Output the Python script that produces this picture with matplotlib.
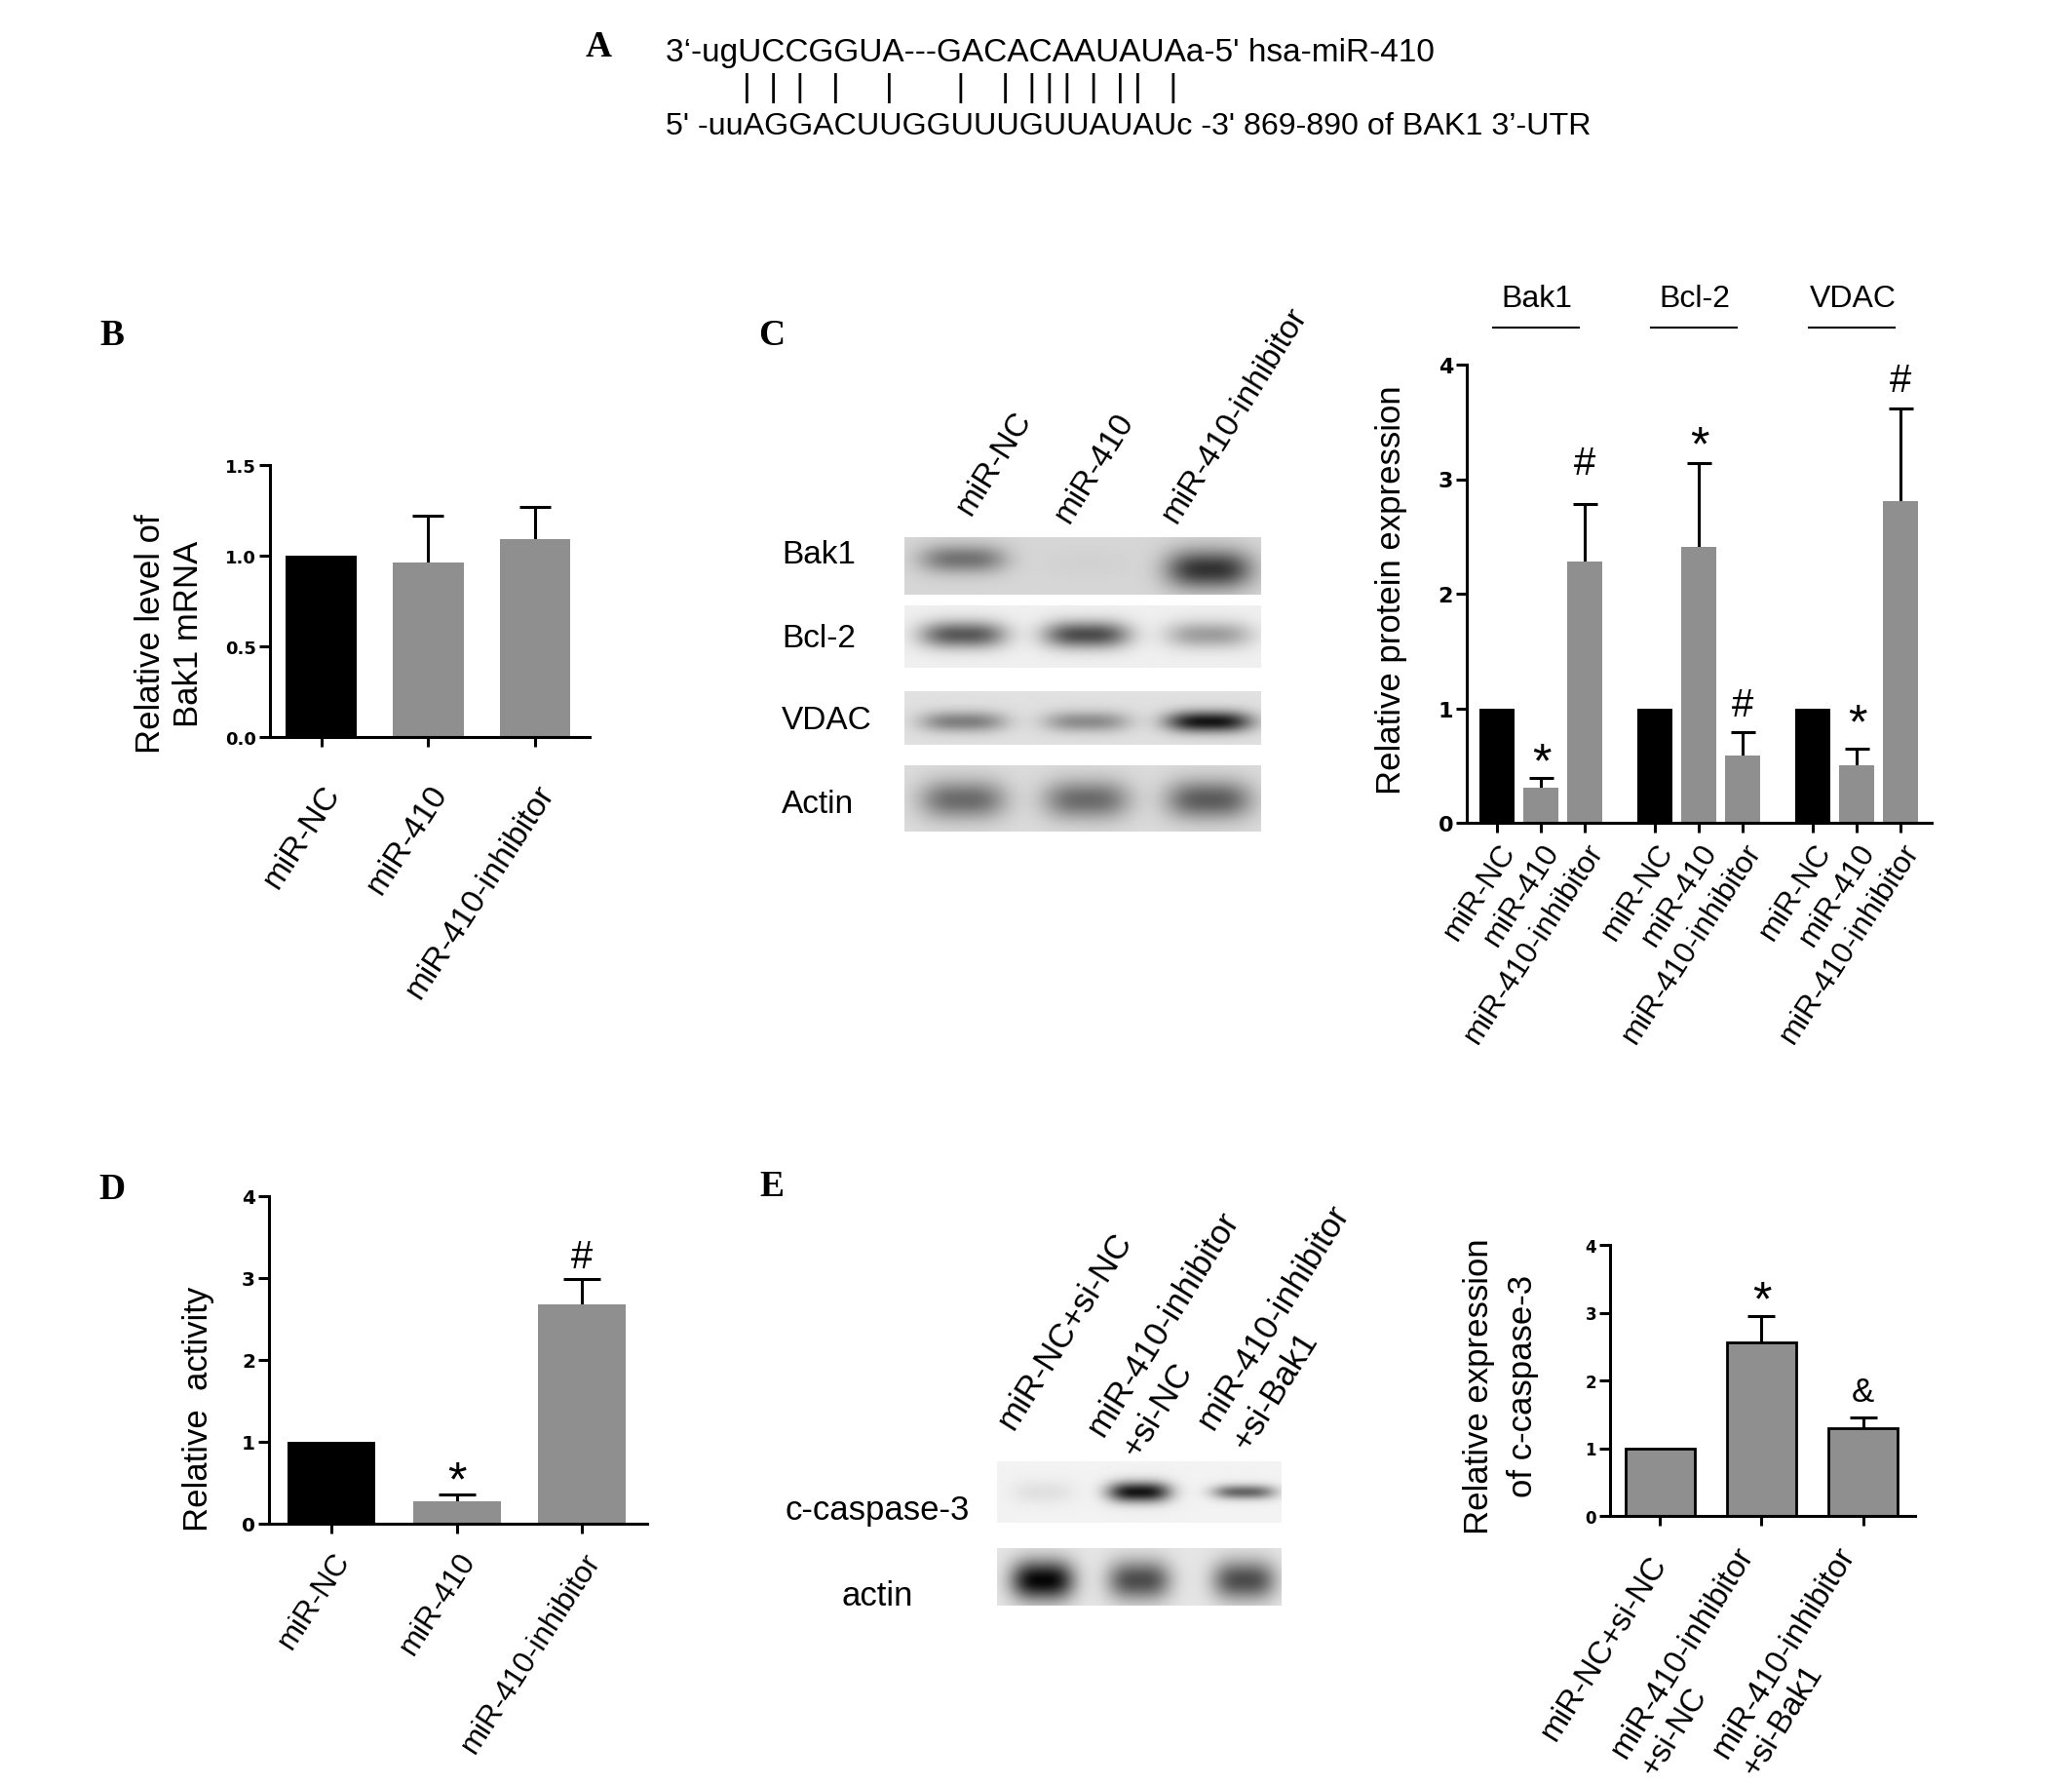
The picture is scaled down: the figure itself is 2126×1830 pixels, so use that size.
import numpy as np
import matplotlib
matplotlib.use("Agg")
import matplotlib.pyplot as plt
from matplotlib.transforms import offset_copy

plt.rcParams['font.family'] = ['Liberation Sans', 'DejaVu Sans']

W, H = 2126, 1831
GRAY = '#8f8f8f'
LW = 2.2

# ---- data ----
mir_seq = "3\u2018-ugUCCGGUA---GACACAAUAUAa-5' hsa-miR-410"
utr_seq = "5' -uuAGGACUUGGUUUGUUAUAUc -3' 869-890 of BAK1 3\u2019-UTR"
pipe_gaps = [2, 2, 3, 5, 7, 4, 2, 1, 1, 2, 2, 1, 3]

groups = ['miR-NC', 'miR-410', 'miR-410-inhibitor']

b_vals = [1.0, 0.96, 1.09]
b_sem = [0, 0.26, 0.18]

proteins = ['Bak1', 'Bcl-2', 'VDAC']
c_vals = [1.0, 0.31, 2.28, 1.0, 2.41, 0.59, 1.0, 0.50, 2.81]
c_sem = [0, 0.08, 0.50, 0, 0.73, 0.20, 0, 0.15, 0.81]
c_marks = ['', '*', '#', '', '*', '#', '', '*', '#']
c_mark_y = [np.nan, 0.655, 3.17, np.nan, 3.42, 1.06, np.nan, 0.99, 3.89]

d_vals = [1.0, 0.27, 2.68]
d_sem = [0, 0.085, 0.31]
d_marks = ['', '*', '#']
d_mark_y = [np.nan, 0.70, 3.30]

e_groups = ['miR-NC+si-NC', 'miR-410-inhibitor\n+si-NC', 'miR-410-inhibitor\n+si-Bak1']
e_vals = [1.0, 2.56, 1.30]
e_sem = [0, 0.385, 0.15]
e_marks = ['', '*', '&']
e_mark_y = [np.nan, 3.39, 1.88]

# western blot band intensity (grey value at band centre, 0 = black)
blot_rows = ['Bak1', 'Bcl-2', 'VDAC', 'Actin']
bak1_band = [0.45, 0.82, 0.20]
bcl2_band = [0.35, 0.30, 0.62]
vdac_band = [0.50, 0.55, 0.08]
actin_band = [0.42, 0.42, 0.36]
ccasp3_band = [0.88, 0.08, 0.40]
actin_e_band = [0.02, 0.30, 0.30]

# symbol font size and glyph centre height (fraction of font size)
SYM_STYLE = {'*': (36, 0.58), '#': (29, 0.35), '&': (25, 0.36)}


def fx(x):
    return x / W


def fy(y):
    return 1 - y / H


def rect(x0, y0, x1, y1):
    return [x0 / W, 1 - y1 / H, (x1 - x0) / W, (y1 - y0) / H]


fig = plt.figure(figsize=(W / 100, H / 100), dpi=100)


def bar_panel(r, x, vals, sem, colors, width, xlim, ylim, yticks, ytl, ytfs,
              xlabels, xfs, rot, xpad, va, cap, edge='none', elw=0):
    ax = fig.add_axes(r)
    x = np.asarray(x, float)
    vals = np.asarray(vals, float)
    sem = np.asarray(sem, float)
    ax.bar(x, vals, width=width, color=colors, edgecolor=edge, linewidth=elw, zorder=2)
    m = sem > 0
    _, caps, _ = ax.errorbar(x[m], vals[m], yerr=[np.zeros(m.sum()), sem[m]], fmt='none',
                             ecolor='black', elinewidth=LW, capsize=cap, capthick=LW, zorder=1)
    for c in caps:
        if np.allclose(c.get_ydata(), vals[m]):
            c.set_visible(False)
    ax.set_xlim(xlim)
    ax.set_ylim(ylim)
    for s in ['top', 'right']:
        ax.spines[s].set_visible(False)
    for s in ['left', 'bottom']:
        ax.spines[s].set_linewidth(LW)
    ax.set_yticks(yticks)
    ax.set_yticklabels(ytl, fontsize=ytfs, fontweight='bold', family='DejaVu Sans')
    ax.set_xticks(x)
    ax.set_xticklabels(xlabels, rotation=rot, ha='right', va=va, rotation_mode='anchor',
                       fontsize=xfs, multialignment='left')
    ax.tick_params(axis='y', length=8, width=LW, pad=2)
    ax.tick_params(axis='x', length=7, width=LW, pad=xpad)
    ax.set_facecolor('none')
    return ax


def put_marks(ax, x, marks, ys):
    for xi, s, yi in zip(x, marks, ys):
        if s:
            fs, c = SYM_STYLE[s]
            tr = offset_copy(ax.transData, fig=fig, y=-c * fs, units='points')
            ax.text(xi, yi, s, ha='center', va='baseline', fontsize=fs, transform=tr)


def blot(r, bg, levels, lanes, yc, hh, hw):
    ax = fig.add_axes(r)
    ax.set_axis_off()
    X, Y = np.meshgrid(np.linspace(0, 1, 400), np.linspace(0, 1, 80))
    img = np.full(X.shape, float(bg))
    for lev, xc, y0, h0 in zip(levels, lanes, yc, hh):
        prof = np.exp(-np.abs((X - xc) / hw) ** 3) * np.exp(-((Y - y0) / h0) ** 2)
        img -= (bg - lev) * prof
    ax.imshow(img, cmap='gray', vmin=0, vmax=1, aspect='auto', interpolation='bilinear')


def lane_labels(names, starts, rot, fs, gap):
    for name, (x, y) in zip(names, starts):
        for k, line in enumerate(name.split('\n')):
            xx = x + k * gap * np.sin(np.radians(rot))
            yy = y + k * gap * np.cos(np.radians(rot))
            fig.text(fx(xx), fy(yy), line, rotation=rot, rotation_mode='anchor', ha='left',
                     va='baseline', fontsize=fs)


# ---- panel letters ----
for letter, (x, y) in zip('ABCDE', [(614, 48), (115, 345), (792, 344), (115, 1220), (792, 1218)]):
    fig.text(fx(x), fy(y), letter, fontsize=27, fontweight='bold', family='Liberation Serif',
             ha='center', va='center')

# ---- A: sequence alignment ----
fig.text(fx(683), fy(54), mir_seq, fontsize=24, va='center')
pipes = '|' + ''.join(' ' * g + '|' for g in pipe_gaps)
fig.text(fx(762), fy(91), pipes, fontsize=24, va='center')
fig.text(fx(683), fy(130), utr_seq, fontsize=23.2, va='center')

# ---- B ----
axB = bar_panel(rect(277, 478, 605, 757), range(3), b_vals, b_sem, ['black', GRAY, GRAY], 0.66,
                (-0.48, 2.51), (0, 1.5), [0, 0.5, 1.0, 1.5], ['0.0', '0.5', '1.0', '1.5'], 13,
                groups, 24, 57, 24, 'top', 11.5)
fig.text(fx(174), fy(650), 'Relative level of\nBak1 mRNA', rotation=90, ha='center', va='center',
         multialignment='center', fontsize=25, linespacing=1.2)

# ---- C: blot ----
c_lanes = [0.164, 0.511, 0.855]
c_strips = [(552, 611), (622, 686), (710, 765), (786, 854)]
c_label_y = [570, 656, 740, 826]
c_bg = [0.84, 0.94, 0.88, 0.86]
c_yc = [[0.38, 0.45, 0.56], [0.47] * 3, [0.57] * 3, [0.52] * 3]
c_hh = [[0.25, 0.25, 0.34], [0.22] * 3, [0.2] * 3, [0.3] * 3]
for name, band, (y0, y1), ly, bg, yc, hh in zip(blot_rows, [bak1_band, bcl2_band, vdac_band, actin_band],
                                              c_strips, c_label_y, c_bg, c_yc, c_hh):
    blot(rect(928, y0, 1294, y1), bg, band, c_lanes, yc, hh, 0.12)
    fig.text(fx(802), fy(ly), name, fontsize=24, va='center', ha='left')
lane_labels(groups, [(996, 530), (1097, 538), (1207, 538)], 58, 24, 40)

# ---- C: chart ----
c_x = [g * 3.6 + i for g in range(3) for i in range(3)]
axC = bar_panel(rect(1505, 375, 1982, 845), c_x, c_vals, c_sem, ['black', GRAY, GRAY] * 3, 0.8,
                (-0.7, 9.9), (0, 4), range(5), [str(v) for v in range(5)], 16,
                groups * 3, 22.5, 57, 4, 'top', 9)
put_marks(axC, c_x, c_marks, c_mark_y)
fig.text(fx(1428), fy(605), 'Relative protein expression', rotation=90, ha='center', va='center',
         fontsize=25)
tr = axC.get_xaxis_transform()
for g, name in enumerate(proteins):
    axC.plot([g * 3.6 - 0.1, g * 3.6 + 1.85], [1.08, 1.08], transform=tr, color='black', lw=1.5,
             clip_on=False)
    axC.text(g * 3.6 + 0.9, 1.145, name, transform=tr, ha='center', va='center', fontsize=23)

# ---- D ----
axD = bar_panel(rect(276, 1228, 664, 1564), range(3), d_vals, d_sem, ['black', GRAY, GRAY], 0.7,
                (-0.5, 2.52), (0, 4), range(5), [str(v) for v in range(5)], 14.5,
                groups, 22.5, 57, 10, 'top', 14)
put_marks(axD, range(3), d_marks, d_mark_y)
fig.text(fx(203), fy(1445), 'Relative  activity', rotation=90, ha='center', va='center', fontsize=25)

# ---- E: blot ----
e_lanes = [0.16, 0.50, 0.87]
blot(rect(1023, 1500, 1315, 1563), 0.95, ccasp3_band, e_lanes, [0.5] * 3, [0.2, 0.17, 0.12], 0.11)
blot(rect(1023, 1589, 1315, 1648), 0.90, actin_e_band, e_lanes, [0.56] * 3, [0.35] * 3, 0.11)
fig.text(fx(900), fy(1550), 'c-caspase-3', fontsize=25, ha='center', va='center')
fig.text(fx(900), fy(1638), 'actin', fontsize=25, ha='center', va='center')
lane_labels(e_groups, [(1040, 1468), (1132, 1475), (1245, 1468)], 58, 25, 41)

# ---- E: chart ----
axE = bar_panel(rect(1652, 1278, 1965, 1556), range(3), e_vals, e_sem, [GRAY] * 3, 0.68,
                (-0.49, 2.51), (0, 4), range(5), [str(v) for v in range(5)], 12,
                e_groups, 23.5, 58, 24, 'center', 10, edge='black', elw=2.0)
put_marks(axE, range(3), e_marks, e_mark_y)
fig.text(fx(1540), fy(1422), 'Relative expression\nof c-caspase-3', rotation=90, ha='center',
         va='center', multialignment='center', fontsize=25, linespacing=1.45)

fig.savefig('out.png', dpi=100)
